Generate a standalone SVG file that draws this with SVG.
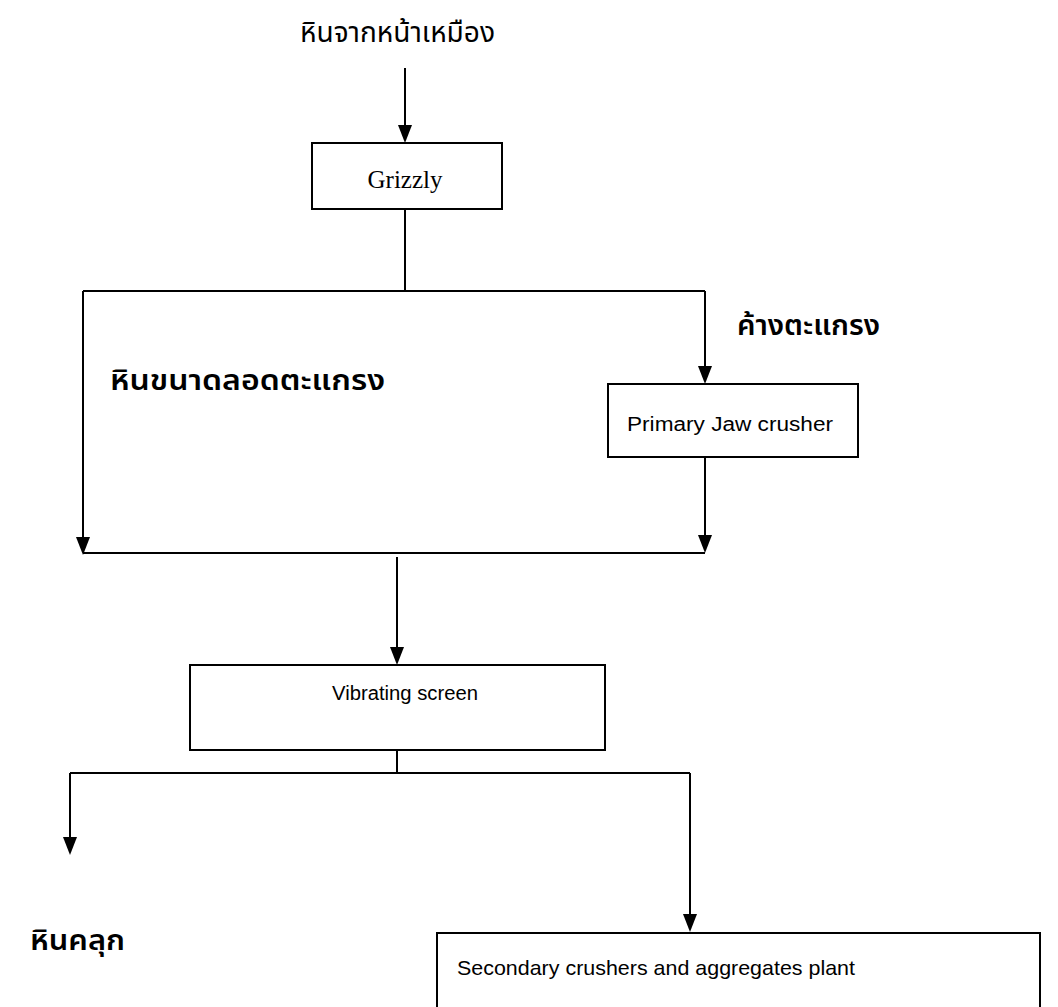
<svg xmlns="http://www.w3.org/2000/svg" width="1058" height="1007" viewBox="0 0 1058 1007">
<style>
.box{fill:#fff;stroke:#000;stroke-width:2}
.ln{fill:none;stroke:#000;stroke-width:2}
.ah{fill:#000}
.th{font-family:"Noto Sans Thai","Noto Sans","DejaVu Sans",sans-serif;font-size:28px;fill:#000}
.thb{font-family:"Noto Sans Thai","Noto Sans","DejaVu Sans",sans-serif;font-size:28px;font-weight:600;fill:#000}
.en{font-family:"Liberation Sans",Arial,sans-serif;font-size:20px;fill:#000}
.serif{font-family:"Liberation Serif","Times New Roman",serif;font-size:25px;fill:#000}
</style>
<g id="connectors">
<path class="ln" d="M405,68 V128"/>
<path class="ah" d="M398,125 L412,125 L405,143 Z"/>
<path class="ln" d="M405,208 V291"/>
<path class="ln" d="M83,291 H705"/>
<path class="ln" d="M83,291 V540"/>
<path class="ah" d="M76,537 L90,537 L83,555 Z"/>
<path class="ln" d="M705,291 V369"/>
<path class="ah" d="M698,366 L712,366 L705,384 Z"/>
<path class="ln" d="M705,457 V537"/>
<path class="ah" d="M698,535 L712,535 L705,553 Z"/>
<path class="ln" d="M83,553 H705"/>
<path class="ln" d="M397,557 V650"/>
<path class="ah" d="M390,647 L404,647 L397,665 Z"/>
<path class="ln" d="M397,750 V773"/>
<path class="ln" d="M70,773 H690"/>
<path class="ln" d="M70,773 V840"/>
<path class="ah" d="M63,837 L77,837 L70,855 Z"/>
<path class="ln" d="M690,773 V917"/>
<path class="ah" d="M683,914 L697,914 L690,932 Z"/>
</g>
<g id="source">
<text class="th" x="300" y="42" textLength="195" lengthAdjust="spacingAndGlyphs">หินจากหน้าเหมือง</text>
</g>
<g id="grizzly">
<rect class="box" x="312" y="143" width="190" height="66"/>
<text class="serif" x="405" y="188" text-anchor="middle">Grizzly</text>
</g>
<g id="label-oversize">
<text class="thb" x="737" y="335" textLength="143" lengthAdjust="spacingAndGlyphs">ค้างตะแกรง</text>
</g>
<g id="label-undersize">
<text class="thb" x="110" y="390" textLength="275" lengthAdjust="spacingAndGlyphs">หินขนาดลอดตะแกรง</text>
</g>
<g id="jaw">
<rect class="box" x="608" y="384" width="250" height="73"/>
<text class="en" x="627" y="431" textLength="206" lengthAdjust="spacingAndGlyphs">Primary Jaw crusher</text>
</g>
<g id="vibrating">
<rect class="box" x="190" y="665" width="415" height="85"/>
<text class="en" x="332" y="700" textLength="146" lengthAdjust="spacingAndGlyphs">Vibrating screen</text>
</g>
<g id="crushed-rock">
<text class="thb" x="30" y="950" textLength="95" lengthAdjust="spacingAndGlyphs">หินคลุก</text>
</g>
<g id="secondary">
<rect class="box" x="437" y="933" width="603" height="80"/>
<text class="en" x="457" y="975" textLength="398" lengthAdjust="spacingAndGlyphs" style="font-size:21px">Secondary crushers and aggregates plant</text>
</g>
</svg>
